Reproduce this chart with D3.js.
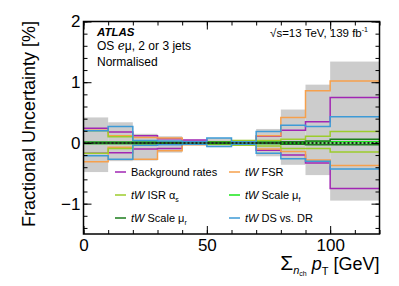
<!DOCTYPE html>
<html>
<head>
<meta charset="utf-8">
<script src="https://cdn.jsdelivr.net/npm/d3@7"></script>
<style>
  body { margin: 0; background: #fff; }
  svg { display: block; font-family: "Liberation Sans", Arial, Helvetica, sans-serif; }
</style>
</head>
<body>
<div id="chart"></div>
<script>
// bin edges of sum(pT) of charged particles [GeV]
const binEdges = [0, 10, 20, 30, 40, 50, 60, 70, 80, 90, 100, 120];

// fractional uncertainties [%], up / down per bin
const bkgUp = [0.24, 0.18, 0.12, 0.07, 0.05, 0.01, 0.01, 0.11, 0.21, 0.35, 0.75];
const bkgDown = [-0.17, -0.16, -0.10, -0.09, -0.02, -0.01, -0.01, -0.12, -0.20, -0.33, -0.75];
const fsrUp = [0.21, 0.12, 0.09, 0.08, 0.01, 0.01, 0.02, 0.12, 0.42, 0.86, 1.02];
const fsrDown = [-0.31, -0.07, -0.27, -0.13, -0.03, -0.01, -0.02, -0.10, -0.14, -0.28, -0.37];
const isrUp = [0.20, 0.10, 0.03, 0.02, 0.02, 0.02, 0.04, 0.04, 0.06, 0.11, 0.19];
const isrDown = [-0.17, -0.09, -0.03, -0.02, -0.02, -0.02, -0.04, -0.05, -0.09, -0.09, -0.15];
const muFUp = [0.01, 0.01, 0.01, 0.01, 0.01, 0.01, 0.01, 0.01, 0.01, 0.02, 0.02];
const muFDown = [-0.01, -0.01, -0.01, -0.01, -0.01, -0.01, -0.01, -0.01, -0.01, -0.02, -0.02];
const muRUp = [0.01, 0.01, 0.01, 0.01, 0.01, 0.01, 0.01, 0.01, 0.02, 0.03, 0.06];
const muRDown = [-0.01, -0.01, -0.01, -0.01, -0.01, -0.01, -0.01, -0.01, -0.02, -0.03, -0.03];
const dsdrUp = [0.20, 0.27, 0.04, 0.03, 0.02, 0.08, 0.02, 0.19, 0.29, 0.27, 0.43];
const dsdrDown = [-0.21, -0.27, -0.04, -0.03, -0.02, -0.06, -0.02, -0.17, -0.26, -0.30, -0.43];
const totalUp = [0.42, 0.34, 0.15, 0.11, 0.05, 0.08, 0.05, 0.23, 0.55, 0.96, 1.34];
const totalDown = [-0.48, -0.30, -0.29, -0.16, -0.04, -0.07, -0.05, -0.22, -0.36, -0.53, -0.95];

const xTicks = [0, 50, 100];
const yTicks = [-1, 0, 1, 2];

const series = [
  { name: 'Background rates', pre: '', sub: '', up: bkgUp, down: bkgDown, color: '#a126b3' },
  { name: ' FSR', pre: 'tW', sub: '', up: fsrUp, down: fsrDown, color: '#f6a04c' },
  { name: ' ISR α', pre: 'tW', sub: 's', up: isrUp, down: isrDown, color: '#9ccc2c' },
  { name: ' Scale μ', pre: 'tW', sub: 'f', up: muFUp, down: muFDown, color: '#19e619' },
  { name: ' Scale μ', pre: 'tW', sub: 'r', up: muRUp, down: muRDown, color: '#1b7d1b' },
  { name: ' DS vs. DR', pre: 'tW', sub: '', up: dsdrUp, down: dsdrDown, color: '#3d9ad6' }
];

const width = 399;
const height = 286;
const pLeft = 83.5, pRight = 379.5, pTop = 21.5, pBottom = 234;

const svg = d3.select('#chart')
  .append('svg')
  .attr('width', width)
  .attr('height', height);

const x = d3.scaleLinear().domain([0, 120]).range([pLeft, pRight]);
const y = d3.scaleLinear().domain([-1.5, 2]).range([pBottom, pTop]);

svg.append('clipPath').attr('id', 'clip')
  .append('rect')
  .attr('x', pLeft).attr('y', pTop)
  .attr('width', pRight - pLeft).attr('height', pBottom - pTop);

const plot = svg.append('g').attr('clip-path', 'url(#clip)');

// total uncertainty band
plot.selectAll('rect.band')
  .data(totalUp.map((u, i) => ({ x0: binEdges[i], x1: binEdges[i + 1], up: u, down: totalDown[i] })))
  .enter().append('rect')
  .attr('class', 'band')
  .attr('x', d => x(d.x0))
  .attr('width', d => x(d.x1) - x(d.x0))
  .attr('y', d => y(d.up))
  .attr('height', d => y(d.down) - y(d.up))
  .attr('fill', '#cccccc');

const step = d3.line()
  .x(d => x(d[0]))
  .y(d => y(d[1]))
  .curve(d3.curveStepAfter);

function toPoints(vals) {
  const pts = vals.map((v, i) => [binEdges[i], v]);
  pts.push([binEdges[binEdges.length - 1], vals[vals.length - 1]]);
  return pts;
}

series.forEach(s => {
  [s.up, s.down].forEach(vals => {
    plot.append('path')
      .attr('d', step(toPoints(vals)))
      .attr('fill', 'none')
      .attr('stroke', s.color)
      .attr('stroke-width', 1.5);
  });
});

// dotted zero line
plot.append('line')
  .attr('x1', pLeft).attr('x2', pRight)
  .attr('y1', y(0)).attr('y2', y(0))
  .attr('stroke', '#222')
  .attr('stroke-width', 2)
  .attr('stroke-dasharray', '2,2');

// axes
const yMinor = d3.range(-14, 21, 2).map(v => v / 10);
const xMinor = d3.range(0, 121, 10);

function styleAxis(g) {
  g.select('.domain').remove();
  g.selectAll('.tick line').attr('stroke', '#000').attr('stroke-width', 1);
  g.selectAll('.tick text').attr('font-size', 17).attr('fill', '#000')
    .style('font-family', '"Liberation Sans", Arial, sans-serif');
}

svg.append('g').attr('transform', `translate(${pLeft},0)`)
  .call(d3.axisLeft(y).tickValues(yMinor).tickSize(-4).tickFormat(''))
  .call(styleAxis);
svg.append('g').attr('transform', `translate(${pLeft},0)`)
  .call(d3.axisLeft(y).tickValues(yTicks).tickSize(-8).tickPadding(3).tickFormat(d3.format('d')))
  .call(styleAxis);
svg.append('g').attr('transform', `translate(${pRight},0)`)
  .call(d3.axisRight(y).tickValues(yMinor).tickSize(-4).tickFormat(''))
  .call(styleAxis);
svg.append('g').attr('transform', `translate(${pRight},0)`)
  .call(d3.axisRight(y).tickValues(yTicks).tickSize(-8).tickFormat(''))
  .call(styleAxis);

svg.append('g').attr('transform', `translate(0,${pBottom})`)
  .call(d3.axisBottom(x).tickValues(xMinor).tickSize(-4).tickFormat(''))
  .call(styleAxis);
svg.append('g').attr('transform', `translate(0,${pBottom})`)
  .call(d3.axisBottom(x).tickValues(xTicks).tickSize(-8).tickPadding(5).tickFormat(d3.format('d')))
  .call(styleAxis);
svg.append('g').attr('transform', `translate(0,${pTop})`)
  .call(d3.axisTop(x).tickValues(xMinor).tickSize(-4).tickFormat(''))
  .call(styleAxis);
svg.append('g').attr('transform', `translate(0,${pTop})`)
  .call(d3.axisTop(x).tickValues(xTicks).tickSize(-8).tickFormat(''))
  .call(styleAxis);

svg.append('rect')
  .attr('x', pLeft).attr('y', pTop)
  .attr('width', pRight - pLeft).attr('height', pBottom - pTop)
  .attr('fill', 'none')
  .attr('stroke', '#000')
  .attr('stroke-width', 1.5);

// axis titles
svg.append('text')
  .attr('transform', 'rotate(-90)')
  .attr('x', -21).attr('y', 35)
  .attr('text-anchor', 'end')
  .attr('font-size', 18)
  .text('Fractional Uncertainty [%]');

const xt = svg.append('text')
  .attr('x', pRight).attr('y', 270)
  .attr('text-anchor', 'end')
  .attr('font-size', 18);
xt.append('tspan').attr('font-size', 21).text('Σ');
xt.append('tspan').attr('font-size', 11).attr('font-style', 'italic').attr('dy', 4).text('n');
xt.append('tspan').attr('font-size', 7).attr('dy', 2).text('ch');
xt.append('tspan').attr('dy', -6).text(' ');
xt.append('tspan').attr('font-style', 'italic').text('p');
xt.append('tspan').attr('font-size', 11).attr('dy', 5).text('T');
xt.append('tspan').attr('dy', -5).text(' [GeV]');

// labels
svg.append('text')
  .attr('x', 97).attr('y', 36)
  .attr('font-size', 11.5).attr('font-weight', 'bold').attr('font-style', 'italic')
  .text('ATLAS');
const os = svg.append('text').attr('x', 97).attr('y', 50).attr('font-size', 12);
os.append('tspan').text('OS ');
os.append('tspan').attr('font-style', 'italic').style('font-family', '"DejaVu Serif", serif').text('e');
os.append('tspan').text('μ, 2 or 3 jets');
svg.append('text')
  .attr('x', 97).attr('y', 66)
  .attr('font-size', 12)
  .text('Normalised');

const lumi = svg.append('text')
  .attr('x', 368).attr('y', 37)
  .attr('text-anchor', 'end')
  .attr('font-size', 11.5);
lumi.append('tspan').text('√s=13 TeV, 139 fb');
lumi.append('tspan').attr('font-size', 7).attr('dy', -5).text('-1');

// legend
const legendPos = [[115, 173], [229, 173], [115, 196], [229, 196], [115, 219], [229, 219]];
series.forEach((s, i) => {
  const [lx, ly] = legendPos[i];
  svg.append('line')
    .attr('x1', lx).attr('x2', lx + 11)
    .attr('y1', ly - 1).attr('y2', ly - 1)
    .attr('stroke', s.color)
    .attr('stroke-width', 1.5);
  const t = svg.append('text')
    .attr('x', lx + 16).attr('y', ly + 3)
    .attr('font-size', 11);
  if (s.pre) t.append('tspan').attr('font-style', 'italic').text(s.pre);
  t.append('tspan').text(s.name);
  if (s.sub) t.append('tspan').attr('font-size', 7).attr('dy', 3).text(s.sub);
});
</script>
</body>
</html>
